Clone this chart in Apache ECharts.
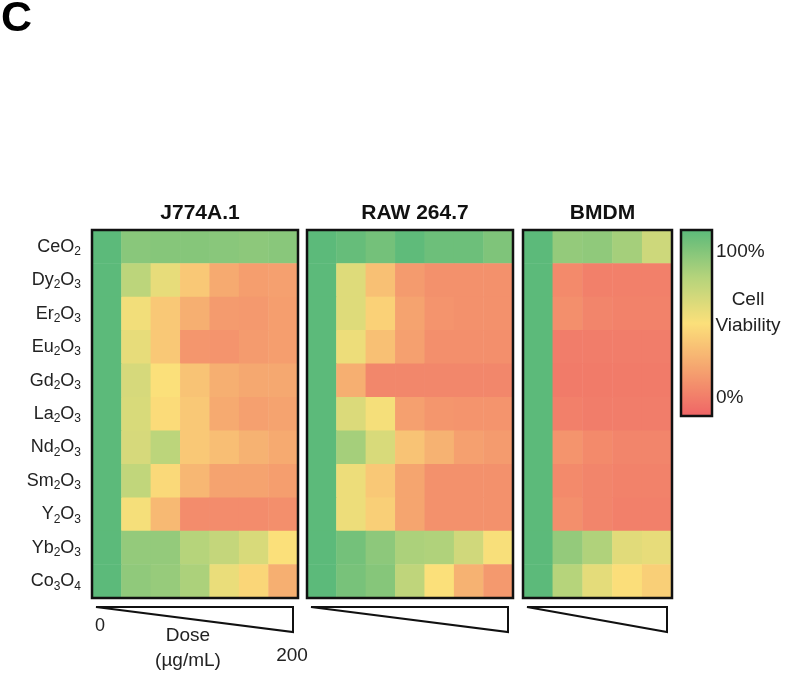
<!DOCTYPE html>
<html>
<head>
<meta charset="utf-8">
<script src="https://cdn.jsdelivr.net/npm/echarts@6/dist/echarts.min.js"></script>
<style>
html,body{margin:0;padding:0;background:#fff;}
#chart{width:800px;height:673px;}
</style>
</head>
<body>
<div id="chart"></div>
<script>
// ---- data ----
const oxides = ['CeO2','Dy2O3','Er2O3','Eu2O3','Gd2O3','La2O3','Nd2O3','Sm2O3','Y2O3','Yb2O3','Co3O4'];
const dosesSeven = ['0','6.25','12.5','25','50','100','200'];
const dosesFive = ['0','25','50','100','200'];
const panelTitles = ['J774A.1','RAW 264.7','BMDM'];

// cell viability (%) per oxide row, dose columns low -> high
const j774Viability = [
  [100,87,88,88,87,86,87],
  [100,72,57,40,28,23,24],
  [100,53,40,30,22,21,23],
  [100,57,40,20,19,22,23],
  [100,63,50,38,30,27,27],
  [100,62,48,40,28,24,25],
  [100,63,72,40,36,31,28],
  [100,70,47,33,25,25,23],
  [100,52,34,16,16,16,17],
  [100,84,84,74,69,62,50],
  [100,85,83,77,56,46,30]
];
const raw264Viability = [
  [100,97,93,99,95,95,90],
  [100,60,37,22,18,18,18],
  [100,60,44,25,19,18,18],
  [100,55,37,24,17,17,17],
  [100,30,14,14,14,14,14],
  [100,61,52,24,20,19,19],
  [100,79,62,38,31,24,22],
  [100,55,40,26,18,18,18],
  [100,55,43,26,18,18,18],
  [100,93,86,77,76,65,51],
  [100,92,88,71,50,31,21]
];
const bmdmViability = [
  [100,84,85,79,66],
  [100,15,11,11,11],
  [100,17,13,12,12],
  [100,10,10,10,10],
  [100,9,9,9,9],
  [100,11,10,10,10],
  [100,19,15,13,13],
  [100,15,13,12,12],
  [100,17,13,11,11],
  [100,84,76,59,57],
  [100,74,58,49,43]
];
const colorStops = ['#ef6466','#f5a36f','#fbe07a','#b3d37b','#5cba7a'];

// ---- layout ----
const gridTop = 230, gridH = 368;
const grids = [
  {left:92, width:206},
  {left:307, width:206},
  {left:523, width:149}
];
const panels = [
  {data:j774Viability, doses:dosesSeven},
  {data:raw264Viability, doses:dosesSeven},
  {data:bmdmViability, doses:dosesFive}
];

function chemLabel(s){
  let out = '';
  for (const ch of s){
    if (/[0-9]/.test(ch)) out += '{s|' + ch + '}';
    else out += '{n|' + ch + '}';
  }
  return out;
}

const font = 'Liberation Sans, Arial, Helvetica, sans-serif';

const option = {
  animation:false,
  backgroundColor:'#fff',
  textStyle:{fontFamily:font},
  title: panelTitles.map((t,i)=>({
    text:t,
    left: grids[i].left + grids[i].width/2,
    textAlign:'center',
    top: 198,
    textStyle:{fontFamily:font, fontWeight:'bold', fontSize:21, color:'#111'}
  })),
  grid: grids.map(g=>({left:g.left, top:gridTop, width:g.width, height:gridH, containLabel:false})),
  xAxis: panels.map((p,i)=>({
    type:'category', gridIndex:i, data:p.doses,
    axisLine:{show:false}, axisTick:{show:false}, axisLabel:{show:false}, splitLine:{show:false}
  })),
  yAxis: panels.map((p,i)=>({
    type:'category', gridIndex:i, data:oxides, inverse:true,
    axisLine:{show:false}, axisTick:{show:false}, splitLine:{show:false},
    axisLabel:{
      show: i===0, margin:11,
      formatter:(v)=>chemLabel(v),
      rich:{
        n:{fontSize:18, color:'#222', fontFamily:font},
        s:{fontSize:12, color:'#222', fontFamily:font, padding:[10,0,0,0]}
      }
    }
  })),
  visualMap:{
    type:'continuous', min:0, max:100, calculable:false,
    orient:'vertical', left:681, top:230, itemWidth:31, itemHeight:186,
    padding:0, text:null, showLabel:false,
    inRange:{color:colorStops}, hoverLink:false
  },
  series: panels.map((p,i)=>{
    const d = [];
    p.data.forEach((row,r)=>row.forEach((v,c)=>d.push([c,r,v])));
    return {
      type:'heatmap', xAxisIndex:i, yAxisIndex:i, data:d,
      itemStyle:{borderWidth:0},
      emphasis:{disabled:true}, progressive:0
    };
  }),
  graphic: []
};

// panel borders and dose wedges
grids.forEach((g,i)=>{
  option.graphic.push({
    type:'rect', z:100, silent:true,
    shape:{x:g.left, y:gridTop, width:g.width, height:gridH},
    style:{fill:null, stroke:'#111', lineWidth:2.5}
  });
  const x0 = g.left + 4, x1 = g.left + g.width - 5;
  option.graphic.push({
    type:'polygon', z:100, silent:true,
    shape:{points:[[x0,607],[x1,607],[x1,632]]},
    style:{fill:'#fff', stroke:'#111', lineWidth:2}
  });
});
// colorbar border
option.graphic.push({
  type:'rect', z:100, silent:true,
  shape:{x:681, y:230, width:31, height:186},
  style:{fill:null, stroke:'#111', lineWidth:2.5}
});
const texts = [
  {t:'100%', x:716, y:252, a:'left', s:19},
  {t:'Cell', x:748, y:300, a:'center', s:19},
  {t:'Viability', x:748, y:326, a:'center', s:19},
  {t:'0%', x:716, y:398, a:'left', s:19},
  {t:'0', x:100, y:626, a:'center', s:18},
  {t:'Dose', x:188, y:636, a:'center', s:19},
  {t:'(µg/mL)', x:188, y:661, a:'center', s:19},
  {t:'200', x:292, y:656, a:'center', s:19}
];
texts.forEach(o=>option.graphic.push({
  type:'text', z:100, silent:true, x:o.x, y:o.y,
  style:{text:o.t, fill:'#222', font:o.s+'px '+font, textAlign:o.a, textVerticalAlign:'middle'}
}));
option.graphic.push({
  type:'text', z:100, silent:true, x:1, y:19,
  style:{text:'C', fill:'#000', font:'bold 43px '+font, textAlign:'left', textVerticalAlign:'middle'}
});

const chart = echarts.init(document.getElementById('chart'), null, {renderer:'canvas'});
chart.setOption(option);
</script>
</body>
</html>
